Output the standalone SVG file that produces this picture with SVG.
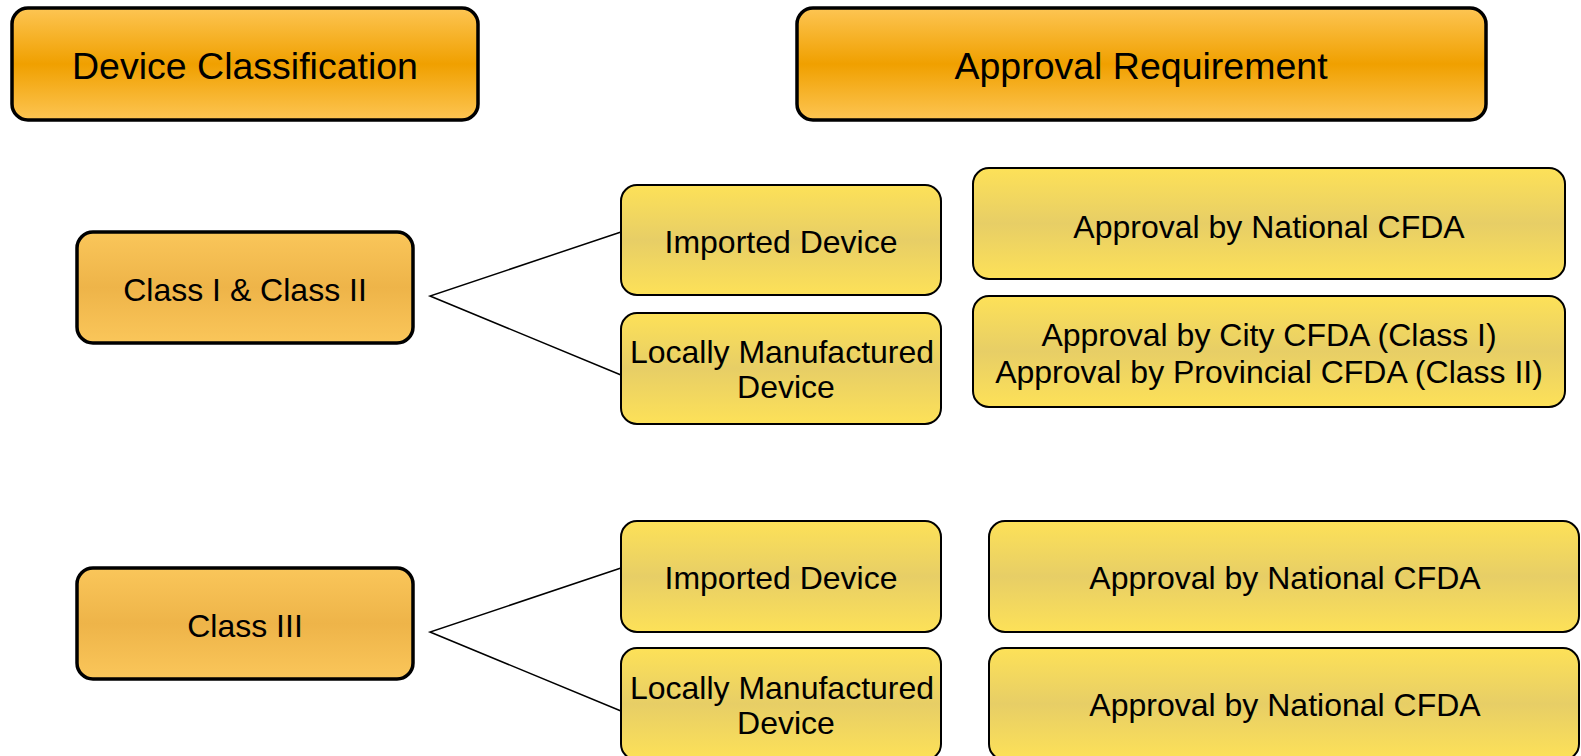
<svg xmlns="http://www.w3.org/2000/svg" width="1581" height="756" viewBox="0 0 1581 756">
<defs>
<linearGradient id="gHead" x1="0" y1="0" x2="0" y2="1">
<stop offset="0" stop-color="#fdc553"/>
<stop offset="0.5" stop-color="#f0a000"/>
<stop offset="1" stop-color="#fdc553"/>
</linearGradient>
<linearGradient id="gClass" x1="0" y1="0" x2="0" y2="1">
<stop offset="0" stop-color="#fac65a"/>
<stop offset="0.5" stop-color="#eeb449"/>
<stop offset="1" stop-color="#fac65a"/>
</linearGradient>
<linearGradient id="gYellow" x1="0" y1="0" x2="0" y2="1">
<stop offset="0" stop-color="#fde158"/>
<stop offset="0.5" stop-color="#e7ce66"/>
<stop offset="1" stop-color="#fde158"/>
</linearGradient>
</defs>
<style>
.head{fill:url(#gHead);stroke:#000;stroke-width:3.5}
.cls{fill:url(#gClass);stroke:#000;stroke-width:3.5}
.yel{fill:url(#gYellow);stroke:#000;stroke-width:2}
text{font-family:"Liberation Sans",Arial,sans-serif;fill:#000;text-anchor:middle}
.ht{font-size:37.5px}
.t{font-size:32px}
.conn{stroke:#000;stroke-width:1.5;fill:none}
</style>
<rect width="1581" height="756" fill="#fff"/>
<g id="connectors">
<polyline class="conn" points="621,232 430,296 621,375"/>
<polyline class="conn" points="621,568 430,632 621,711"/>
</g>
<g id="head-device">
<rect class="head" x="12" y="8" width="466" height="112" rx="16"/>
<text class="ht" x="245" y="79">Device Classification</text>
</g>
<g id="head-approval">
<rect class="head" x="797" y="8" width="689" height="112" rx="16"/>
<text class="ht" x="1141" y="79">Approval Requirement</text>
</g>
<g id="class12">
<rect class="cls" x="77" y="232" width="336" height="111" rx="16"/>
<text class="t" x="245" y="301">Class I &amp; Class II</text>
</g>
<g id="class3">
<rect class="cls" x="77" y="568" width="336" height="111" rx="16"/>
<text class="t" x="245" y="637">Class III</text>
</g>
<g id="imported1">
<rect class="yel" x="621" y="185" width="320" height="110" rx="16"/>
<text class="t" x="781" y="253">Imported Device</text>
</g>
<g id="local1">
<rect class="yel" x="621" y="313" width="320" height="111" rx="16"/>
<text class="t" x="782" y="363">Locally Manufactured</text>
<text class="t" x="786" y="398">Device</text>
</g>
<g id="approval1">
<rect class="yel" x="973" y="168" width="592" height="111" rx="16"/>
<text class="t" x="1269" y="238">Approval by National CFDA</text>
</g>
<g id="approval2">
<rect class="yel" x="973" y="296" width="592" height="111" rx="16"/>
<text class="t" x="1269" y="346">Approval by City CFDA (Class I)</text>
<text class="t" x="1269" y="383">Approval by Provincial CFDA (Class II)</text>
</g>
<g id="imported2">
<rect class="yel" x="621" y="521" width="320" height="111" rx="16"/>
<text class="t" x="781" y="589">Imported Device</text>
</g>
<g id="local2">
<rect class="yel" x="621" y="648" width="320" height="112" rx="16"/>
<text class="t" x="782" y="699">Locally Manufactured</text>
<text class="t" x="786" y="734">Device</text>
</g>
<g id="approval3">
<rect class="yel" x="989" y="521" width="590" height="111" rx="16"/>
<text class="t" x="1285" y="589">Approval by National CFDA</text>
</g>
<g id="approval4">
<rect class="yel" x="989" y="648" width="590" height="112" rx="16"/>
<text class="t" x="1285" y="716">Approval by National CFDA</text>
</g>
</svg>
